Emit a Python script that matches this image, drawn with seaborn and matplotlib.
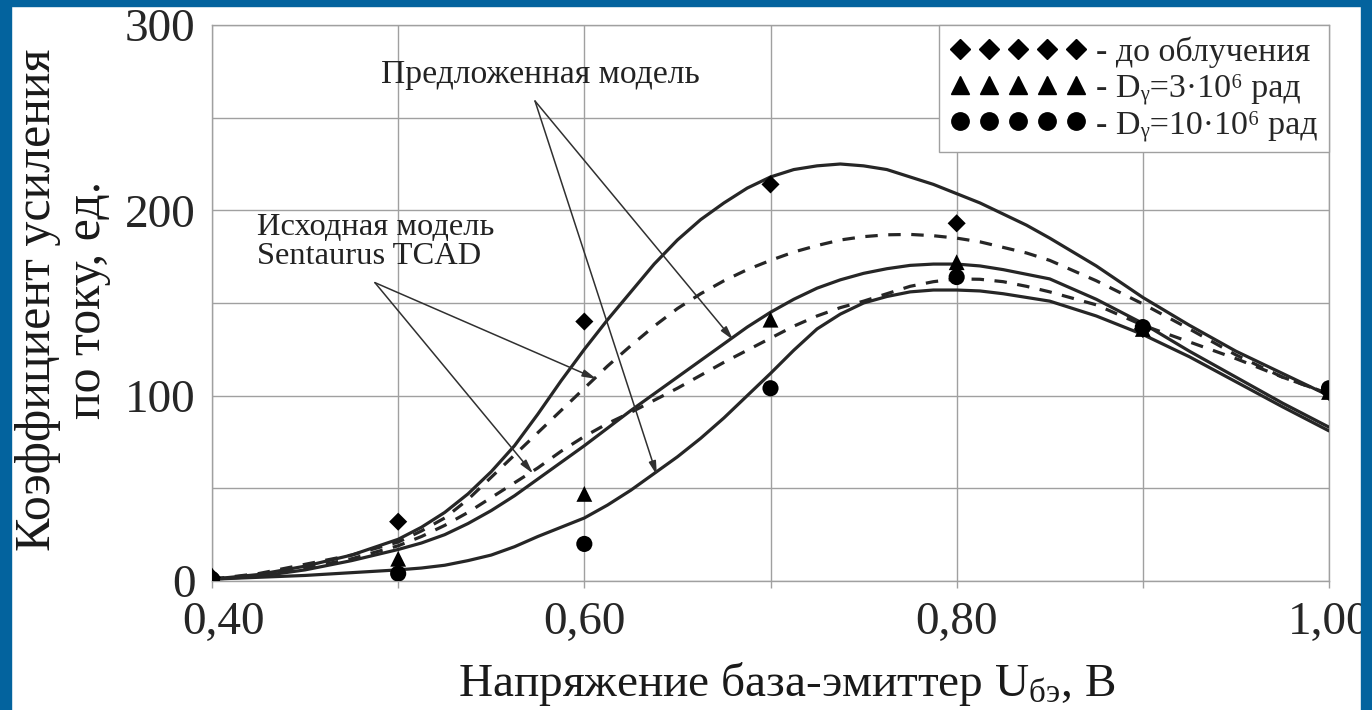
import numpy as np
import pandas as pd
import seaborn as sns
import matplotlib.pyplot as plt
import matplotlib.transforms as mtransforms
from matplotlib.lines import Line2D
from matplotlib.patches import Rectangle

# напряжение база-эмиттер, В (точки кривых)
volts = [0.400, 0.425, 0.450, 0.475, 0.500, 0.5125, 0.525, 0.5375, 0.550,
         0.5625, 0.575, 0.5875, 0.600, 0.6125, 0.625, 0.6375, 0.650, 0.6625,
         0.675, 0.6875, 0.700, 0.7125, 0.725, 0.7375, 0.750, 0.7625, 0.775,
         0.7875, 0.800, 0.8125, 0.825, 0.8375, 0.850, 0.875, 0.900, 0.925,
         0.950, 0.975, 1.000]

# предложенная модель (сплошные)
model_0 = [1, 3.5, 8, 14, 22.5, 29, 37, 47, 59, 73, 90, 108, 125, 141, 156,
           171, 184, 195, 204, 212, 218, 222, 224, 225, 224, 222, 218, 214,
           209, 204, 198, 192, 185, 170, 153, 138, 124, 112, 100]
model_3 = [1, 2.5, 6, 11, 17, 20.5, 25, 31, 38, 46, 55, 64, 73, 82.5, 92,
           101, 110, 119, 128, 137, 145, 152, 158, 162.5, 166, 168.5, 170.3,
           171, 171, 170, 168, 165.5, 163, 152, 139, 124, 110, 96, 83]
model_10 = [1, 2, 3, 4.5, 6, 7, 8.5, 11, 14, 18.5, 24, 29, 34, 41, 49, 58,
            67, 77, 88, 100, 112, 124.5, 136, 144, 150, 153.5, 156, 157, 157,
            156.5, 155, 153, 151, 143, 133, 121, 107.5, 94, 81]

# исходная модель Sentaurus TCAD (пунктир)
tcad_a = [1, 4, 9, 14, 21, 27, 34, 44, 56, 68, 80, 92, 104, 116, 127, 137.5,
          147, 155, 162, 168, 173, 177.5, 181, 184, 185.8, 186.8, 187, 186.3,
          185, 183, 180, 177, 173, 162, 149.5, 136, 122, 110, 101]
tcad_b = [1, 3, 7, 12, 19, 24, 30, 37, 45, 53, 61, 70, 78, 85, 91, 97.5, 104,
          111, 118, 124.5, 131, 137.5, 143, 147.5, 151, 155, 159, 161.5, 163,
          162.8, 161.5, 159, 156, 149, 138, 129, 120, 110, 101]

# эксперимент
meas_volts = [0.4, 0.5, 0.6, 0.7, 0.8, 0.9, 1.0]
meas_0 = [2, 32, 140, 214, 193, 136, 102]
meas_3 = [3, 12, 47, 141, 172, 136, 102]
meas_10 = [1, 4, 20, 104, 164, 137, 104]

curves = pd.concat([
    pd.DataFrame({'U': volts, 'beta': v, 'curve': name})
    for name, v in [('m0', model_0), ('m3', model_3), ('m10', model_10),
                    ('ta', tcad_a), ('tb', tcad_b)]
])

sns.set_theme(style='whitegrid')
plt.rcParams['font.family'] = ['Liberation Serif', 'DejaVu Serif']
plt.rcParams['mathtext.fontset'] = 'custom'
plt.rcParams['mathtext.rm'] = 'Liberation Serif'
plt.rcParams['mathtext.it'] = 'Liberation Serif:italic'

fig = plt.figure(figsize=(13.72, 7.10), dpi=100, facecolor='white')
ax = fig.add_axes([212 / 1372, 129 / 710, 1117 / 1372, 556 / 710])
ax.set_facecolor('white')

line_col = '#262626'
sns.lineplot(data=curves, x='U', y='beta', hue='curve', style='curve',
             palette={k: line_col for k in ['m0', 'm3', 'm10', 'ta', 'tb']},
             dashes={'m0': '', 'm3': '', 'm10': '', 'ta': (3.9, 3.3), 'tb': (3.9, 3.3)},
             linewidth=2.3, sort=False, legend=False, ax=ax, zorder=3)

sns.scatterplot(x=meas_volts, y=meas_0, marker='D', s=85, color='black',
                edgecolor='none', ax=ax, zorder=4)
sns.scatterplot(x=meas_volts, y=meas_3, marker='^', s=130, color='black',
                edgecolor='none', ax=ax, zorder=4)
sns.scatterplot(x=meas_volts, y=meas_10, marker='o', s=135, color='black',
                edgecolor='none', ax=ax, zorder=4)

ax.set_xlim(0.4, 1.0)
ax.set_ylim(0, 300)
ax.set_xticks([0.4, 0.6, 0.8, 1.0])
ax.set_xticks([0.5, 0.7, 0.9], minor=True)
ax.set_xticklabels(['0,40', '0,60', '0,80', '1,00'])
ax.set_yticks([0, 100, 200, 300])
ax.set_yticks([50, 150, 250], minor=True)
ax.grid(True, which='both', color='#a0a0a0', linewidth=1.0)
ax.tick_params(axis='x', which='both', length=5, width=1, color='#a0a0a0',
               direction='out', bottom=True, labelsize=34, pad=10)
ax.tick_params(axis='y', which='both', length=0, labelsize=34, pad=12)
for sp in ax.spines.values():
    sp.set_color('#a0a0a0')
    sp.set_linewidth(1.0)

# первая подпись оси X смещена вправо, как в оригинале
first = ax.xaxis.get_major_ticks()[0].label1
first.set_transform(first.get_transform() +
                    mtransforms.ScaledTranslation(0.12, 0, fig.dpi_scale_trans))

ax.set_xlabel('Напряжение база-эмиттер U$_{\\mathrm{бэ}}$, В', fontsize=34,
              color='#1a1a1a')
ax.xaxis.set_label_coords(0.515, -0.185)
ax.xaxis.label.set_va('center')
ax.set_ylabel('Коэффициент усиления\nпо току, ед.', fontsize=36,
              color='#1a1a1a', linespacing=1.1)
ax.yaxis.set_label_coords(-0.134, 0.505)
ax.yaxis.label.set_va('center')

arrow = dict(arrowstyle='-|>,head_length=0.7,head_width=0.18', color='#303030',
             lw=1.1, shrinkA=0, shrinkB=0)
ax.text(0.5765, 273, 'Предложенная модель', fontsize=24.2, ha='center',
        va='center', color='#222222', zorder=5)
ax.annotate('', xy=(0.680, 130), xytext=(0.5735, 259), arrowprops=arrow)
ax.annotate('', xy=(0.639, 57), xytext=(0.5735, 259), arrowprops=arrow)

ax.text(0.4242, 183, 'Исходная модель\nSentaurus TCAD', fontsize=23.4,
        ha='left', va='center', linespacing=0.97, color='#222222', zorder=5)
ax.annotate('', xy=(0.6066, 109), xytext=(0.4875, 161), arrowprops=arrow)
ax.annotate('', xy=(0.5724, 58), xytext=(0.4875, 161), arrowprops=arrow)

handles = [Line2D([], [], marker='D', ls='none', color='black', ms=10),
           Line2D([], [], marker='^', ls='none', color='black', ms=12.5),
           Line2D([], [], marker='o', ls='none', color='black', ms=12.5)]
labels = ['- до облучения',
          '- Dᵧ=3·10⁶ рад',
          '- Dᵧ=10·10⁶ рад']
leg = ax.legend(handles, labels, loc='upper right', bbox_to_anchor=(1.0, 1.0),
                borderaxespad=0, numpoints=5, handlelength=4.0,
                handletextpad=0.3, labelspacing=0.15, borderpad=0.33,
                fontsize=24.5, frameon=True, fancybox=False, framealpha=1)
leg.get_frame().set_edgecolor('#a0a0a0')
leg.get_frame().set_linewidth(1.0)
leg.set_zorder(6)

blue = '#03639e'
fig.add_artist(Rectangle((0, 704 / 710), 1, 6 / 710, transform=fig.transFigure,
                         color=blue, zorder=10))
fig.add_artist(Rectangle((0, 0), 11 / 1372, 1, transform=fig.transFigure,
                         color=blue, zorder=10))
fig.add_artist(Rectangle((1361 / 1372, 0), 11 / 1372, 1,
                         transform=fig.transFigure, color=blue, zorder=10))

fig.savefig('out.png', dpi=100)
